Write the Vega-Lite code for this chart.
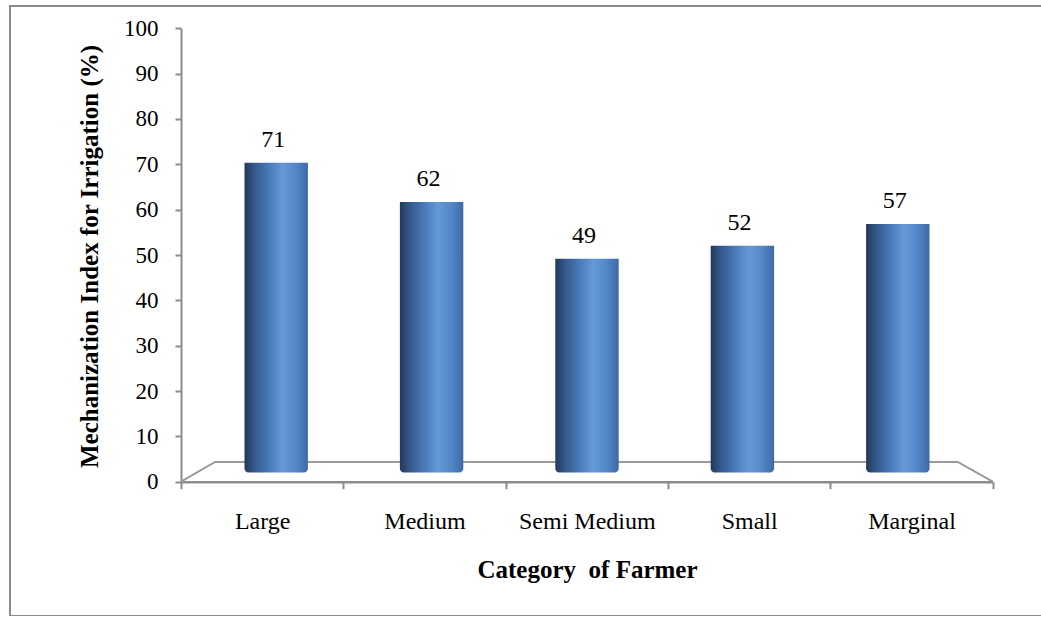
{
  "$schema": "https://vega.github.io/schema/vega-lite/v6.json",
  "autosize": "none",
  "width": 1040,
  "height": 610,
  "padding": {"left": 10, "top": 6, "right": 0, "bottom": 0},
  "background": "white",
  "config": {
    "view": {"stroke": "#8c8c8c", "strokeWidth": 2},
    "font": "Liberation Serif"
  },
  "datasets": {
    "farmers": [
      {"category": "Large", "value": 71},
      {"category": "Medium", "value": 62},
      {"category": "Semi Medium", "value": 49},
      {"category": "Small", "value": 52},
      {"category": "Marginal", "value": 57}
    ],
    "floor": [
      {"fx": 0, "fy": 0},
      {"fx": 0.042, "fy": 4.35},
      {"fx": 0.957, "fy": 4.35},
      {"fx": 1, "fy": 0}
    ]
  },
  "resolve": {"scale": {"x": "independent", "y": "independent"}, "axis": {"x": "independent", "y": "independent"}},
  "layer": [
    {
      "data": {"name": "floor"},
      "mark": {"type": "line", "color": "#9a9a9a", "strokeWidth": 2},
      "encoding": {
        "x": {"field": "fx", "type": "quantitative", "scale": {"domain": [0, 1], "range": [171, 982.7], "nice": false, "zero": false}, "axis": null},
        "y": {"field": "fy", "type": "quantitative", "scale": {"domain": [0, 100], "range": [475.7, 22.3], "nice": false}, "axis": null}
      }
    },
    {
      "data": {"name": "farmers"},
      "mark": {"type": "tick", "opacity": 0},
      "encoding": {
        "x": {
          "field": "category", "type": "nominal", "sort": null,
          "scale": {"range": [171, 982.7], "paddingInner": 0, "paddingOuter": 0},
          "axis": {
            "orient": "bottom", "offset": -134.3, "title": "Category\u00a0 of Farmer",
            "labelAngle": 0, "tickBand": "extent",
            "domainColor": "#8c8c8c", "domainWidth": 2.5, "tickColor": "#8c8c8c", "tickWidth": 2, "tickSize": 7,
            "labelFont": "Liberation Serif", "labelFontSize": 24, "labelColor": "#000000",
            "labelBaseline": "alphabetic", "labelPadding": 39.3,
            "titleFont": "Liberation Serif", "titleFontSize": 25, "titleFontWeight": "bold", "titleColor": "#000000",
            "titleBaseline": "alphabetic", "titleY": 95.3, "titleX": 577, "titleAlign": "center"
          }
        },
        "y": {
          "field": "value", "type": "quantitative",
          "scale": {"domain": [0, 100], "range": [475.7, 22.3], "nice": false},
          "axis": {
            "orient": "left", "offset": -171, "values": [0, 10, 20, 30, 40, 50, 60, 70, 80, 90, 100],
            "grid": false, "title": "Mechanization Index for Irrigation (%)",
            "domainColor": "#8c8c8c", "domainWidth": 2, "tickColor": "#8c8c8c", "tickWidth": 2, "tickSize": 6,
            "labelFont": "Liberation Serif", "labelFontSize": 23, "labelColor": "#000000", "labelPadding": 17,
            "titleFont": "Liberation Serif", "titleFontSize": 25, "titleFontWeight": "bold", "titleColor": "#000000",
            "titleBaseline": "alphabetic", "titleX": -84, "titleY": 250, "titleAlign": "center", "titleAngle": -90
          }
        }
      }
    },
    {
      "data": {"name": "farmers"},
      "encoding": {
        "x": {
          "field": "category", "type": "nominal", "sort": null,
          "scale": {"range": [188.5, 965.5], "paddingInner": 0.592, "paddingOuter": 0.296},
          "axis": null
        },
        "y": {
          "field": "value", "type": "quantitative",
          "scale": {"domain": [0, 100], "range": [466.5, 30.4], "nice": false},
          "axis": null
        }
      },
      "layer": [
        {
          "mark": {
            "type": "bar",
            "cornerRadiusBottomLeft": 4, "cornerRadiusBottomRight": 4,
            "color": {
              "gradient": "linear", "x1": 0, "y1": 0, "x2": 1, "y2": 0,
              "stops": [
                {"offset": 0, "color": "#22385a"},
                {"offset": 0.15, "color": "#34578a"},
                {"offset": 0.4, "color": "#4b7cbb"},
                {"offset": 0.6, "color": "#6699da"},
                {"offset": 0.82, "color": "#5286c6"},
                {"offset": 1, "color": "#3d6aa5"}
              ]
            }
          },
          "encoding": {
            "y2": {"datum": 0}
          }
        },
        {
          "mark": {"type": "text", "font": "Liberation Serif", "fontSize": 24, "color": "#000000", "baseline": "alphabetic", "dy": -16, "dx": -3},
          "encoding": {
            "text": {"field": "value", "type": "quantitative"}
          }
        }
      ]
    }
  ]
}
